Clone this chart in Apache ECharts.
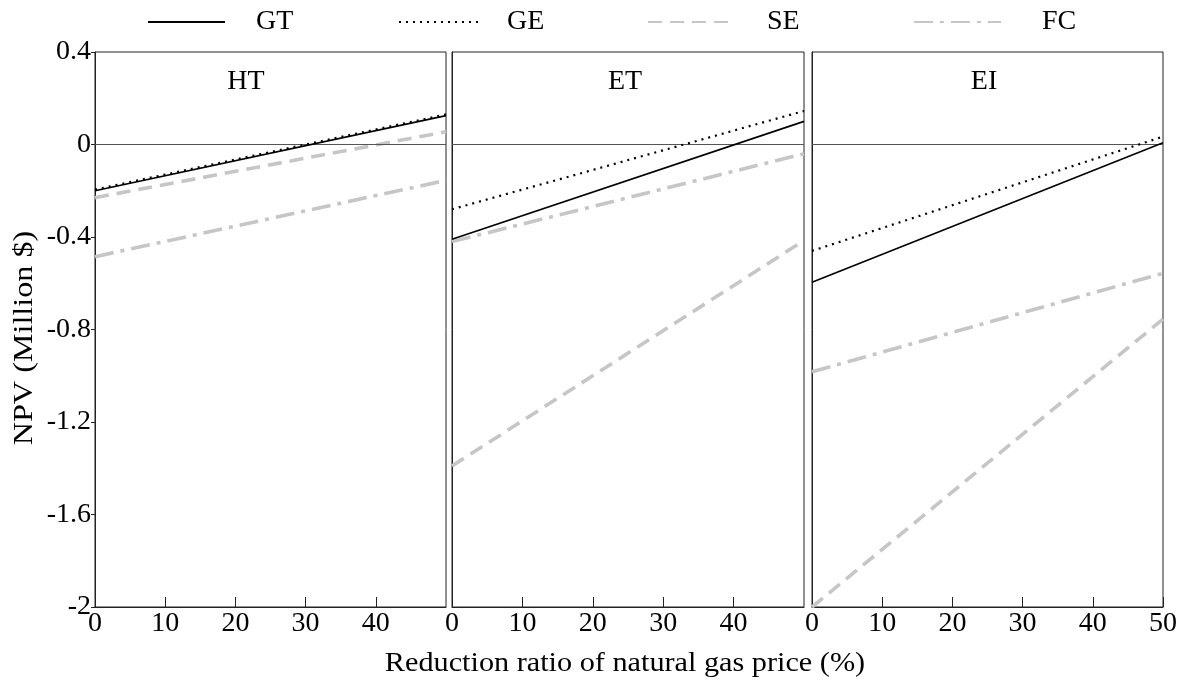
<!DOCTYPE html>
<html>
<head>
<meta charset="utf-8">
<script src="https://cdn.jsdelivr.net/npm/echarts@6/dist/echarts.min.js"></script>
<style>
  html, body { margin: 0; padding: 0; background: #fff; }
  #chart { width: 1193px; height: 684px; }
</style>
</head>
<body>
<div id="chart"></div>
<script>
// Reduction ratio of natural gas price (%) at the two ends of each line
const xValues = [0, 50];
const xTicks = [0, 10, 20, 30, 40, 50];
const yTicks = [-2, -1.6, -1.2, -0.8, -0.4, 0, 0.4];

// Panel titles
const panels = ['HT', 'ET', 'EI'];
const seriesNames = ['GT', 'GE', 'SE', 'FC'];

// NPV (Million $) per panel and technology, at 0% and 50% price reduction
const HT_GT = [-0.200, 0.125];
const HT_GE = [-0.195, 0.130];
const HT_SE = [-0.230, 0.055];
const HT_FC = [-0.485, -0.155];

const ET_GT = [-0.410, 0.100];
const ET_GE = [-0.280, 0.145];
const ET_SE = [-1.390, -0.415];
const ET_FC = [-0.420, -0.040];

const EI_GT = [-0.596, 0.008];
const EI_GE = [-0.460, 0.034];
const EI_SE = [-2.000, -0.755];
const EI_FC = [-0.983, -0.557];

const panelValues = [
  [HT_GT, HT_GE, HT_SE, HT_FC],
  [ET_GT, ET_GE, ET_SE, ET_FC],
  [EI_GT, EI_GE, EI_SE, EI_FC]
];

const FONT = "'Liberation Serif', 'Times New Roman', serif";
const GRAY = '#c6c6c6';

const lineStyles = {
  GT: { color: '#000', width: 1.6, type: 'solid' },
  GE: { color: '#000', width: 2.2, type: [2, 5] },
  SE: { color: GRAY, width: 3.6, type: [14, 8] },
  FC: { color: GRAY, width: 3.6, type: [19, 7, 4, 7] }
};

// Plot areas of the three panels
const gridBoxes = [
  { left: 95, width: 351 },
  { left: 452, width: 352 },
  { left: 812, width: 351 }
];
const GRID_TOP = 52;
const GRID_HEIGHT = 555;

const grids = gridBoxes.map(b => ({
  left: b.left, width: b.width, top: GRID_TOP, height: GRID_HEIGHT,
  show: true, borderColor: '#222', borderWidth: 1, backgroundColor: 'transparent',
  containLabel: false
}));

const xAxes = gridBoxes.map((b, i) => ({
  type: 'value', gridIndex: i, min: xTicks[0], max: xTicks[xTicks.length - 1], interval: 10,
  axisLine: { show: true, onZero: false, lineStyle: { color: '#222', width: 1 } },
  axisTick: { show: true, inside: true, length: 10, lineStyle: { color: '#222', width: 1 } },
  splitLine: { show: false },
  axisLabel: {
    show: true, color: '#000', fontFamily: FONT, fontSize: 28, margin: 3,
    showMaxLabel: i === 2, showMinLabel: true
  }
}));

const yAxes = gridBoxes.map((b, i) => ({
  type: 'value', gridIndex: i, min: yTicks[0], max: yTicks[yTicks.length - 1], interval: 0.4,
  axisLine: { show: true, onZero: false, lineStyle: { color: '#222', width: 1 } },
  axisTick: { show: i === 0, inside: false, length: 4, lineStyle: { color: '#222', width: 1 } },
  splitLine: { show: false },
  axisLabel: {
    show: i === 0, color: '#000', fontFamily: FONT, fontSize: 28, margin: 4,
    formatter: v => {
      const r = Math.round(v * 10) / 10;
      return r === 0 ? '0' : String(r);
    }
  }
}));

const series = [];
panelValues.forEach((vals, p) => {
  vals.forEach((v, s) => {
    const name = seriesNames[s];
    series.push({
      name: name,
      type: 'line',
      xAxisIndex: p, yAxisIndex: p,
      data: xValues.map((x, k) => [x, v[k]]),
      symbol: 'none',
      showSymbol: false,
      silent: true,
      z: 3 + (3 - s),
      lineStyle: lineStyles[name],
      itemStyle: { color: lineStyles[name].color }
    });
  });
  // horizontal reference line at NPV = 0
  series.push({
    type: 'line', xAxisIndex: p, yAxisIndex: p, data: [], silent: true,
    markLine: {
      silent: true, symbol: 'none', animation: false,
      label: { show: false },
      lineStyle: { color: '#555', width: 1, type: 'solid' },
      data: [{ yAxis: 0 }]
    }
  });
});

// One legend per entry so each sits at its own spot in the top row
const legendSpots = [
  { name: 'GT', left: 142, w: 77, pad: 26 },
  { name: 'GE', left: 393, w: 79, pad: 24 },
  { name: 'SE', left: 642, w: 86, pad: 28 },
  { name: 'FC', left: 908, w: 87, pad: 36 }
];
const legends = legendSpots.map(l => ({
  data: [l.name], left: l.left, top: 3, orient: 'horizontal',
  itemWidth: l.w, itemHeight: 14, selectedMode: false,
  itemStyle: { color: 'rgba(0,0,0,0)', borderColor: 'rgba(0,0,0,0)', borderWidth: 0 },
  textStyle: { color: '#000', fontFamily: FONT, fontSize: 28, padding: [0, 0, 0, l.pad] }
}));

const titles = [
  { text: panels[0], x: 241 },
  { text: panels[1], x: 620 },
  { text: panels[2], x: 979 }
].map(t => ({
  text: t.text, left: t.x, top: 63, textAlign: 'center',
  textStyle: { color: '#000', fontFamily: FONT, fontSize: 28, fontWeight: 'normal' }
}));

const chart = echarts.init(document.getElementById('chart'), null, { renderer: 'canvas' });
chart.setOption({
  backgroundColor: '#fff',
  animation: false,
  title: titles,
  legend: legends,
  grid: grids,
  xAxis: xAxes,
  yAxis: yAxes,
  series: series,
  graphic: [
    {
      type: 'text', x: 625, y: 664, scaleX: 1.08,
      style: {
        text: 'Reduction ratio of natural gas price (%)', fill: '#000',
        font: "28px 'Liberation Serif', 'Times New Roman', serif",
        textAlign: 'center', textVerticalAlign: 'middle'
      }
    },
    {
      type: 'text', x: 25, y: 338, rotation: Math.PI / 2, scaleX: 1.15,
      style: {
        text: 'NPV (Million $)', fill: '#000',
        font: "28px 'Liberation Serif', 'Times New Roman', serif",
        textAlign: 'center', textVerticalAlign: 'middle'
      }
    }
  ]
});
</script>
</body>
</html>
